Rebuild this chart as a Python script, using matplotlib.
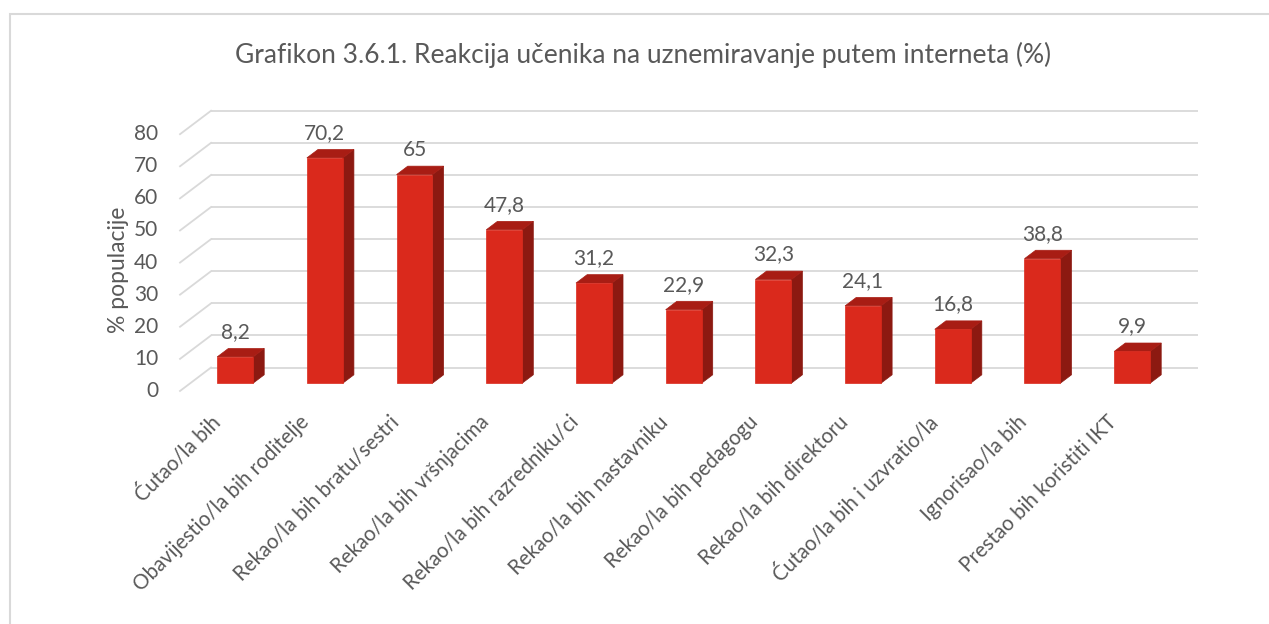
import matplotlib.pyplot as plt
from matplotlib.patches import Polygon, Rectangle

# chart data
categories = ["Ćutao/la bih", "Obavijestio/la bih roditelje", "Rekao/la bih bratu/sestri",
              "Rekao/la bih vršnjacima", "Rekao/la bih razredniku/ci", "Rekao/la bih nastavniku",
              "Rekao/la bih pedagogu", "Rekao/la bih direktoru", "Ćutao/la bih i uzvratio/la",
              "Ignorisao/la bih", "Prestao bih koristiti IKT"]
values = [8.2, 70.2, 65, 47.8, 31.2, 22.9, 32.3, 24.1, 16.8, 38.8, 9.9]
value_labels = ["8,2", "70,2", "65", "47,8", "31,2", "22,9", "32,3", "24,1", "16,8", "38,8", "9,9"]
yticks = [0, 10, 20, 30, 40, 50, 60, 70, 80]

title = "Grafikon 3.6.1. Reakcija učenika na uznemiravanje putem interneta (%)"
ylabel = "% populacije"

# colours / fonts
text_col = "#595959"
grid_col = "#D9D9D9"
front_col = "#DA291C"
side_col = "#8C1911"
top_col = "#A81D14"
font = "Lato"

# fake 3d: offset (in data units) of back wall vs. front plane
DX, DY = 0.3456, 7.3
f0, f1 = 0.33, 0.69      # bar depth (fraction of full depth)
hw = 0.2                 # half bar width

fig = plt.figure(figsize=(12.69, 6.24), dpi=100)
ax = fig.add_axes([0, 0, 1, 1])
ax.set_xlim(-2.507, 11.64)
ax.set_ylim(-72.6, 121.8)
ax.axis("off")

n = len(categories)
left, right = -0.5, n - 0.5

# back wall gridlines + left diagonals
for v in yticks:
    ax.plot([left + DX, right + DX], [v + DY, v + DY], color=grid_col, lw=1.3, zorder=1,
            solid_capstyle="butt")
    ax.plot([left, left + DX], [v, v + DY], color=grid_col, lw=1.3, zorder=1)
    ax.text(left - 0.245, v, str(v), ha="right", va="center", fontsize=15,
            color=text_col, family=font)

# bars
for i, v in enumerate(values):
    x0, x1 = i - hw, i + hw
    front = [(x0 + f0 * DX, f0 * DY), (x1 + f0 * DX, f0 * DY),
             (x1 + f0 * DX, v + f0 * DY), (x0 + f0 * DX, v + f0 * DY)]
    side = [(x1 + f0 * DX, f0 * DY), (x1 + f1 * DX, f1 * DY),
            (x1 + f1 * DX, v + f1 * DY), (x1 + f0 * DX, v + f0 * DY)]
    top = [(x0 + f0 * DX, v + f0 * DY), (x1 + f0 * DX, v + f0 * DY),
           (x1 + f1 * DX, v + f1 * DY), (x0 + f1 * DX, v + f1 * DY)]
    ax.add_patch(Polygon(side, closed=True, facecolor=side_col, edgecolor=side_col, lw=0.5, zorder=3))
    ax.add_patch(Polygon(top, closed=True, facecolor=top_col, edgecolor=top_col, lw=0.5, zorder=3))
    ax.add_patch(Polygon(front, closed=True, facecolor=front_col, edgecolor=front_col, lw=0.5, zorder=4))
    ax.annotate(value_labels[i], (i + f0 * DX, v + f0 * DY), xytext=(0, 18),
                textcoords="offset points", ha="center", va="center", fontsize=15,
                color=text_col, family=font)
    ax.text(i - 0.17, -6.5, categories[i], rotation=45, rotation_mode="anchor",
            ha="right", va="top", fontsize=14.8, color=text_col, family=font)

ax.text(-1.19, 37.7, ylabel, rotation=90, ha="center", va="center", fontsize=16.5,
        color=text_col, family=font)
fig.text(0.507, 0.912, title, ha="center", va="center", fontsize=19,
         color=text_col, family=font)

# outer chart border
fig.patches.append(Rectangle((10 / 1269, -0.1), 1.2, 1 - 14 / 624 + 0.1,
                             transform=fig.transFigure, fill=False,
                             edgecolor=grid_col, lw=1.5))

fig.savefig("out.png", dpi=100)
